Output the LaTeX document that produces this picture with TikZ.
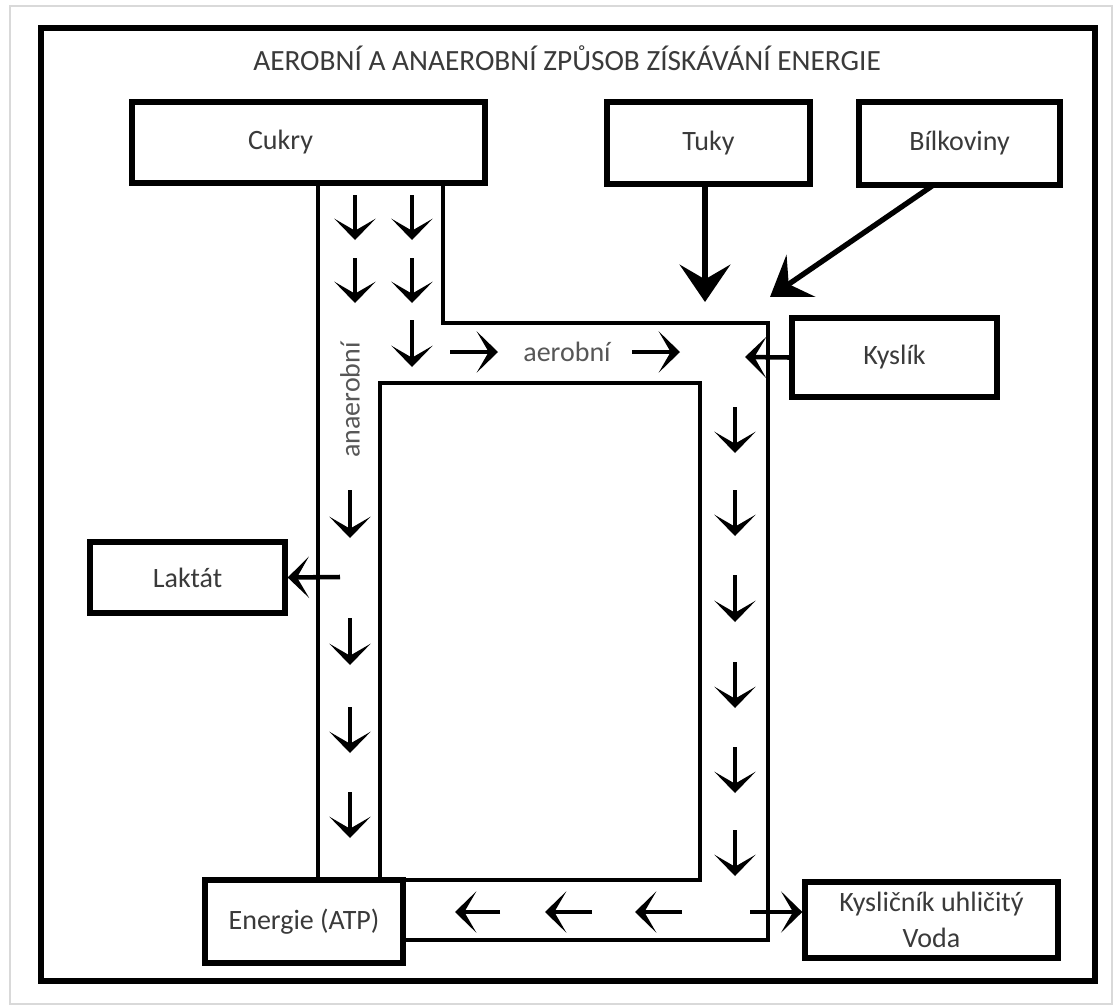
\documentclass[tikz,border=0pt]{standalone}
\usepackage{fontspec}
\setmainfont{Carlito}
\usetikzlibrary{arrows.meta}
\definecolor{txt}{HTML}{3A3A3A}
\tikzset{
  box/.style={draw, line width=4pt, inner sep=0pt, text=txt, font=\fontsize{21}{25}\selectfont, align=center},
  chan/.style={line width=3pt},
  small/.style={line width=3.4pt, -{Stealth[length=16pt, width=31pt, inset=9pt]}},
  big/.style={line width=4pt, -{Stealth[length=28pt, width=38pt, inset=11pt]}},
  lbl/.style={text=txt, font=\fontsize{21}{25}\selectfont, inner sep=0pt}
}
\begin{document}
\begin{tikzpicture}[x=0.75pt,y=-0.75pt]
\useasboundingbox (0,0) rectangle (1114,1007);
\fill[white] (0,0) rectangle (1114,1007);
\draw[gray!30, line width=0.8pt] (10,6) rectangle (1112,1004);
% outer frame
\draw[line width=4pt] (41,28) rectangle (1095,981);
\node[lbl, font=\fontsize{22}{26}\selectfont] (title) at (567,58) {AEROBNÍ A ANAEROBNÍ ZPŮSOB ZÍSKÁVÁNÍ ENERGIE};
% boxes
\node[box, minimum width=264.75pt, minimum height=60.75pt,
      label={[lbl, xshift=-21pt]center:Cukry}] (cukry) at (308.5,142.5) {};
\node[box, minimum width=152.25pt, minimum height=61.5pt] (tuky) at (708.5,143) {Tuky};
\node[box, minimum width=150.75pt, minimum height=62.25pt] (bilk) at (959.5,143.5) {Bílkoviny};
\node[box, minimum width=153.75pt, minimum height=59.25pt] (kyslik) at (894.5,357.5) {Kyslík};
\node[box, minimum width=146.25pt, minimum height=53.25pt] (laktat) at (187.5,577.5) {Laktát};
\node[box, minimum width=148.5pt, minimum height=62.25pt] (atp) at (304,921.5) {Energie (ATP)};
\node[box, minimum width=189.75pt, minimum height=57pt, font=\fontsize{21}{27}\selectfont] (co2) at (931.5,920) {Kysličník uhličitý\\Voda};
% channels
\draw[chan] (318,183) -- (318,880);
\draw[chan] (380,880) -- (380,383) -- (700,383) -- (700,880) -- (405,880);
\draw[chan] (443,183) -- (443,323) -- (768,323) -- (768,940) -- (403,940);
% labels in channels
\node[lbl, text=txt!85] (aer) at (567,352) {aerobní};
\node[lbl, text=txt!85, rotate=90] (anaer) at (350,400) {anaerobní};
% small arrows
\foreach \x/\a/\b in {355/195/240, 355/258/303, 412/195/240, 412/258/303, 412/320/367,
                      350/490/538, 350/618/665, 350/707/753, 350/792/838,
                      735/407/453, 735/490/536, 735/575/622, 735/662/708, 735/747/793, 735/830/876}
  \draw[small] (\x,\a) -- (\x,\b);
\foreach \a/\b in {450/498, 632/680}
  \draw[small] (\a,352) -- (\b,352);
\foreach \a/\b in {500/455, 592/545, 682/635}
  \draw[small] (\a,912) -- (\b,912);
% connectors
\coordinate (tukyend) at (705,302);
\coordinate (bilkend) at (770,297);
\coordinate (kyslend) at (745,357);
\coordinate (laktstart) at (340,577);
\coordinate (co2start) at (750,912);
\draw[big] (tuky.south -| tukyend) -- (tukyend);
\draw[big] (932,186) -- (bilkend);
\draw[small] (kyslik.west) -- (kyslend);
\draw[small] (laktstart) -- (laktat.east);
\draw[small] (co2start) -- (co2start -| co2.west);
\end{tikzpicture}
\end{document}
